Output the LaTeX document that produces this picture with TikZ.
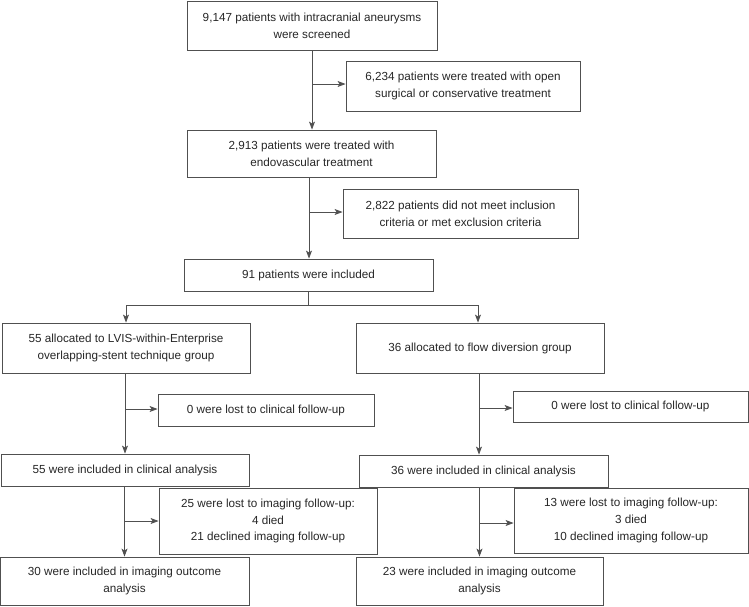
\documentclass[tikz,border=0pt]{standalone}
\usepackage{fontspec}
\setmainfont{Liberation Sans}
\usetikzlibrary{arrows.meta}
\definecolor{txt}{HTML}{262626}
\definecolor{ln}{HTML}{505050}
\tikzset{
  box/.style={draw=ln, line width=0.85pt, align=center, text=txt, inner sep=0pt,
    font=\fontsize{11.7pt}{16.7pt}\selectfont},
  conn/.style={draw=ln, line width=0.85pt},
  arr/.style={conn, -{Stealth[length=8pt,width=6pt,inset=2pt]}},
}
\begin{document}
\begin{tikzpicture}[x=1pt,y=-1pt]
\useasboundingbox (0,0) rectangle (749,606);
\node[box, minimum width=250, minimum height=49] (b1) at (312,25.5) {9,147 patients with intracranial aneurysms\\were screened};
\node[box, minimum width=234, minimum height=50] (b2) at (463,86) {6,234 patients were treated with open\\surgical or conservative treatment};
\node[box, minimum width=249, minimum height=47] (b3) at (311.5,153.5) {2,913 patients were treated with\\endovascular treatment};
\node[box, minimum width=235, minimum height=49] (b4) at (460.5,213.5) {2,822 patients did not meet inclusion\\criteria or met exclusion criteria};
\node[box, minimum width=249, minimum height=32] (b5) at (308.5,275) {91 patients were included};
\node[box, minimum width=248, minimum height=50] (l1) at (126,348) {55 allocated to LVIS-within-Enterprise\\overlapping-stent technique group};
\node[box, minimum width=248, minimum height=50] (r1) at (480,348) {36 allocated to flow diversion group};
\node[box, minimum width=216, minimum height=32] (l0) at (266,410) {0 were lost to clinical follow-up};
\node[box, minimum width=235, minimum height=31] (r0) at (630.5,406.5) {0 were lost to clinical follow-up};
\node[box, minimum width=248, minimum height=32] (lc) at (125,470) {55 were included in clinical analysis};
\node[box, minimum width=249, minimum height=32] (rc) at (483.5,471) {36 were included in clinical analysis};
\node[box, minimum width=218, minimum height=66] (li) at (268,521) {25 were lost to imaging follow-up:\\4 died\\21 declined imaging follow-up};
\node[box, minimum width=234, minimum height=65] (ri) at (631,520.5) {13 were lost to imaging follow-up:\\3 died\\10 declined imaging follow-up};
\node[box, minimum width=249, minimum height=48] (lf) at (124.5,581) {30 were included in imaging outcome\\analysis};
\node[box, minimum width=247, minimum height=48] (rf) at (479.5,581) {23 were included in imaging outcome\\analysis};

\coordinate (s1) at (312,84);
\draw[arr] (b1.south) -- (b1.south |- b3.north);
\draw[arr] (s1) -- (s1 -| b2.west);
\coordinate (s2) at (309,212);
\draw[arr] (s2 |- b3.south) -- (s2 |- b5.north);
\draw[arr] (s2) -- (s2 -| b4.west);
\coordinate (br) at (308.5,305);
\coordinate (brl) at (126,305);
\coordinate (brr) at (478,305);
\draw[conn] (b5.south) -- (br);
\draw[arr] (br) -- (brl) -- (brl |- l1.north);
\draw[arr] (br) -- (brr) -- (brr |- r1.north);

\coordinate (s3) at (125,409);
\draw[arr] (s3 |- l1.south) -- (s3 |- lc.north);
\draw[arr] (s3) -- (s3 -| l0.west);
\coordinate (s4) at (479,408);
\draw[arr] (s4 |- r1.south) -- (s4 |- rc.north);
\draw[arr] (s4) -- (s4 -| r0.west);
\coordinate (s5) at (124.5,521);
\draw[arr] (s5 |- lc.south) -- (s5 |- lf.north);
\draw[arr] (s5) -- (s5 -| li.west);
\coordinate (s6) at (479.5,523);
\draw[arr] (s6 |- rc.south) -- (s6 |- rf.north);
\draw[arr] (s6) -- (s6 -| ri.west);
\end{tikzpicture}
\end{document}
